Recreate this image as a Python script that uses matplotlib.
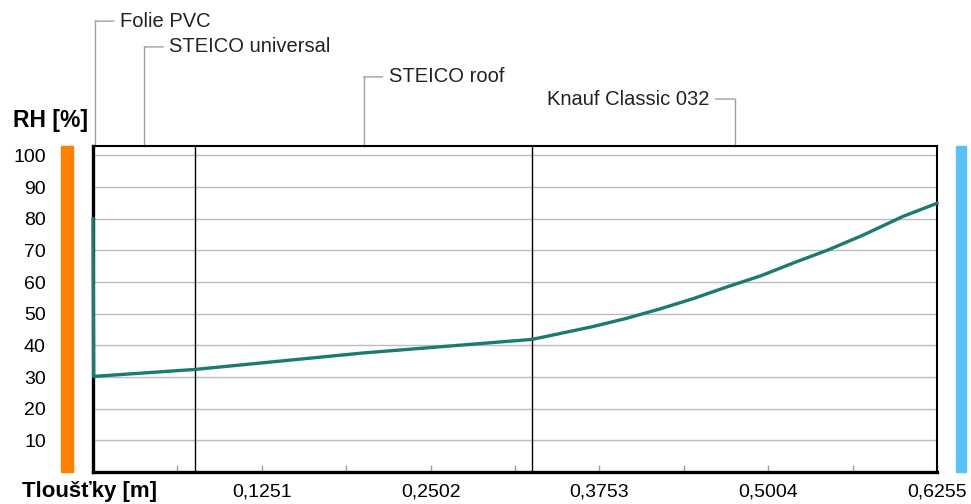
import matplotlib.pyplot as plt
from matplotlib.transforms import blended_transform_factory
from matplotlib.ticker import MultipleLocator
from matplotlib.patches import Rectangle
import numpy as np

plt.rcParams['font.family'] = ['Liberation Sans', 'DejaVu Sans']

# skladba konstrukce (od interieru)
vrstvy = ["Folie PVC", "STEICO universal", "STEICO roof", "Knauf Classic 032"]
tloustky = [0.0005, 0.075, 0.25, 0.30]
# prubeh relativni vlhkosti
x_rh = [0, 0.0005, 0.0755, 0.20, 0.3255, 0.37, 0.395, 0.42, 0.445, 0.47,
        0.495, 0.52, 0.545, 0.57, 0.60, 0.6255]
rh = [80, 30.2, 32.4, 37.6, 41.9, 45.9, 48.5, 51.5, 54.8, 58.5,
      62.0, 66.2, 70.2, 74.7, 80.7, 84.9]
xticks = [0.1251, 0.2502, 0.3753, 0.5004, 0.6255]
xticklabels = ["0,1251", "0,2502", "0,3753", "0,5004", "0,6255"]
yticks = [10, 20, 30, 40, 50, 60, 70, 80, 90, 100]

# vyska popisku nad grafem (axes fraction) a strana
popisky_y = [1.383, 1.304, 1.212, 1.144]
popisky_smer = [1, 1, 1, -1]

fig = plt.figure(figsize=(9.71, 5.04), dpi=100)
ax = fig.add_axes([93/971, 32/504, 844/971, 326/504])

celkem = sum(tloustky)
ax.set_xlim(0, celkem)
ax.set_ylim(0, 103)

for y in yticks:
    ax.axhline(y, color='#bcbcbc', lw=1, zorder=1)

hranice = np.cumsum(tloustky)
for h in hranice[1:-1]:
    ax.axvline(h, color='black', lw=1, zorder=2)

ax.plot(x_rh, rh, color='#1d7a70', lw=2.4, zorder=4, clip_on=False)

# spiny
for s in ['left', 'bottom']:
    ax.spines[s].set_linewidth(2.4)
for s in ['top', 'right']:
    ax.spines[s].set_linewidth(1.5)

ax.set_yticks(yticks)
ax.set_yticklabels([str(v) for v in yticks])
ax.tick_params(axis='y', length=0, pad=34, labelsize=14)
ax.set_xticks(xticks)
ax.set_xticklabels(xticklabels)
ax.xaxis.set_minor_locator(MultipleLocator(0.06255))
ax.tick_params(axis='x', which='both', direction='in', length=5, color='#a0a0a0',
               width=1, pad=8, labelsize=14)

# barevne pruhy (interier / exterier)
ax.add_patch(Rectangle((-0.0379, 0), 0.0142, 1.0, transform=ax.transAxes,
                       color='#ff8000', clip_on=False, zorder=3))
ax.add_patch(Rectangle((1.0225, 0), 0.0119, 1.0, transform=ax.transAxes,
                       color='#5bc0f5', clip_on=False, zorder=3))

# popisky vrstev
blend = blended_transform_factory(ax.transData, ax.transAxes)
start = 0
for nazev, t, ly, smer in zip(vrstvy, tloustky, popisky_y, popisky_smer):
    xm = start + t / 2
    if t < 0.005:
        xm = start + 0.0015
    start += t
    ax.plot([xm, xm], [1.0, ly], color='#a0a0a0', lw=1, transform=blend, clip_on=False)
    ax.annotate('', xy=(xm, ly), xycoords=blend, xytext=(smer * 19, 0),
                textcoords='offset pixels',
                arrowprops=dict(arrowstyle='-', color='#a0a0a0', lw=1, shrinkA=0, shrinkB=0))
    ax.annotate(nazev, xy=(xm, ly), xycoords=blend, xytext=(smer * 25, 0),
                textcoords='offset pixels', ha='left' if smer > 0 else 'right',
                va='center', fontsize=14.5, color='#222222')

fig.text(13/971, 1 - 120/504, "RH [%]", fontsize=16.5, fontweight='bold', va='center', ha='left')
fig.text(22/971, 1 - 492/504, "Tloušťky [m]", fontsize=16, fontweight='bold', va='center', ha='left')

fig.savefig('out.png', dpi=100)
